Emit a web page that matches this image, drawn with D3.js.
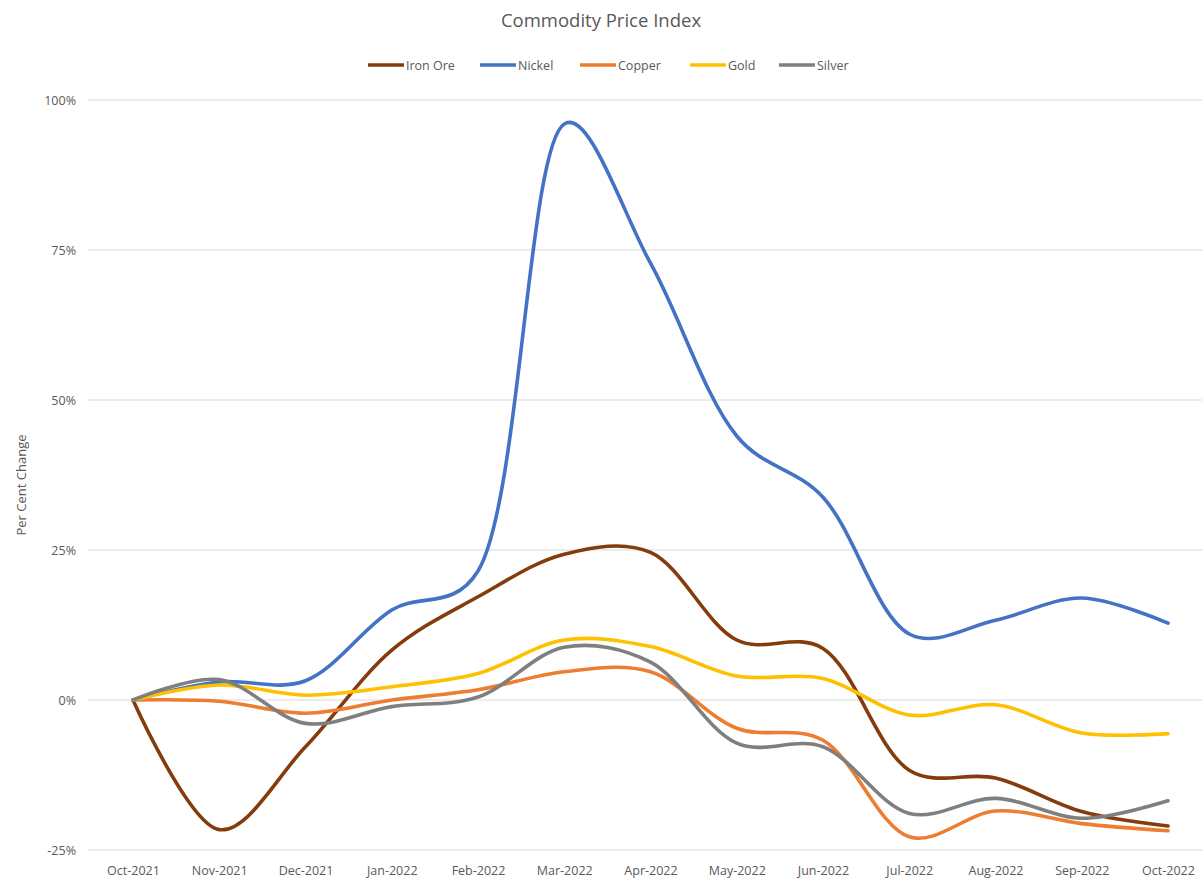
<!DOCTYPE html>
<html>
<head>
<meta charset="utf-8">
<script src="https://cdn.jsdelivr.net/npm/d3@7"></script>
<style>
  html, body { margin: 0; padding: 0; background: #fff; }
  svg { display: block; }
  text { font-family: "Open Sans", "Noto Sans", "Liberation Sans", sans-serif; fill: #595959; }
</style>
</head>
<body>
<svg id="chart" width="1202" height="881"></svg>
<script>
const months = ["Oct-2021","Nov-2021","Dec-2021","Jan-2022","Feb-2022","Mar-2022","Apr-2022","May-2022","Jun-2022","Jul-2022","Aug-2022","Sep-2022","Oct-2022"];
const seriesNames = ["Iron Ore","Nickel","Copper","Gold","Silver"];
const seriesColors = ["#843C0C","#4472C4","#ED7D31","#FFC000","#7F7F7F"];
const ironOre = [0, -21.6, -7.8, 8.3, 17.2, 24.3, 24.6, 10.0, 8.6, -11.7, -13.0, -18.6, -21.0];
const nickel  = [0, 3.0, 3.2, 15.0, 21.5, 96.0, 72.8, 44.0, 33.8, 11.0, 13.3, 17.0, 12.8];
const copper  = [0, -0.2, -2.2, 0.0, 1.7, 4.7, 4.7, -4.7, -6.7, -22.8, -18.5, -20.6, -21.8];
const gold    = [0, 2.5, 0.8, 2.2, 4.4, 10.0, 8.9, 4.0, 3.6, -2.5, -0.8, -5.5, -5.6];
const silver  = [0, 3.4, -3.9, -1.1, 0.5, 8.8, 6.3, -7.2, -7.8, -18.9, -16.4, -19.7, -16.8];
const yTicks = [-25, 0, 25, 50, 75, 100];
const title = "Commodity Price Index";
const yTitle = "Per Cent Change";

const allSeries = [ironOre, nickel, copper, gold, silver];

const svg = d3.select("#chart");
const plotLeft = 88, plotRight = 1202;

const x = d3.scalePoint().domain(months).range([133, 1168]);
const y = d3.scaleLinear().domain([-25, 100]).range([850, 100]);

// gridlines
svg.append("g").selectAll("line").data(yTicks).join("line")
  .attr("x1", plotLeft).attr("x2", plotRight)
  .attr("y1", d => y(d)).attr("y2", d => y(d))
  .attr("stroke", "#d9d9d9").attr("stroke-width", 1.2);

// y axis labels
const yAxis = d3.axisLeft(y).tickValues(yTicks).tickSize(0).tickPadding(0)
  .tickFormat(d => d + "%");
svg.append("g").attr("transform", "translate(76,0)").call(yAxis)
  .call(g => g.select(".domain").remove())
  .selectAll("text").attr("font-size", 12.5).style("fill", "#595959")
  .style("font-family", "'Open Sans', sans-serif");

// x axis labels
const xAxis = d3.axisBottom(x).tickSize(0).tickPadding(0);
svg.append("g").attr("transform", "translate(0,866)").call(xAxis)
  .call(g => g.select(".domain").remove())
  .selectAll("text").attr("font-size", 12.5).style("fill", "#595959")
  .style("font-family", "'Open Sans', sans-serif");

// lines
const line = d3.line()
  .x((d, i) => x(months[i]))
  .y(d => y(d))
  .curve(d3.curveCatmullRom.alpha(0.35));

svg.append("g").selectAll("path").data(allSeries).join("path")
  .attr("d", d => line(d))
  .attr("fill", "none")
  .attr("stroke", (d, i) => seriesColors[i])
  .attr("stroke-width", 3.6)
  .attr("stroke-linejoin", "round")
  .attr("stroke-linecap", "round");

// title
svg.append("text").attr("x", 601).attr("y", 27).attr("text-anchor", "middle")
  .attr("font-size", 18.5).text(title);

// y title
svg.append("text")
  .attr("transform", "translate(26,485) rotate(-90)")
  .attr("text-anchor", "middle").attr("font-size", 13).text(yTitle);

// legend
const legendX = [368, 480, 580, 690, 779];
const lg = svg.append("g").selectAll("g").data(seriesNames).join("g")
  .attr("transform", (d, i) => `translate(${legendX[i]},65)`);
lg.append("line").attr("x1", 0).attr("x2", 36).attr("y1", 0).attr("y2", 0)
  .attr("stroke", (d, i) => seriesColors[i]).attr("stroke-width", 3.6);
lg.append("text").attr("x", 38).attr("y", 4.5).attr("font-size", 12.5).text(d => d);
</script>
</body>
</html>
